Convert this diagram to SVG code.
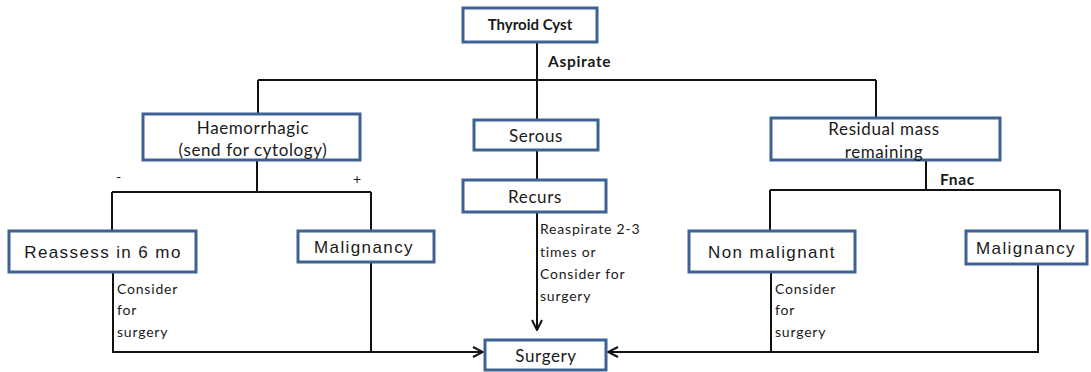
<svg xmlns="http://www.w3.org/2000/svg" width="1091" height="372" viewBox="0 0 1091 372">
  <style>
    .box { fill: #ffffff; stroke: #3d6293; stroke-width: 3; }
    .wire { fill: none; stroke: #111111; stroke-width: 2; }
    .t { font-family: Lato, "Open Sans", sans-serif; font-size: 17px; letter-spacing: 0.6px; fill: #1a1a1a; text-anchor: middle; }
    .tb { font-size: 15px; letter-spacing: 0; font-weight: bold; }
    .a { font-family: "Liberation Sans", Arial, sans-serif; font-size: 17px; letter-spacing: 1.4px; fill: #1a1a1a; text-anchor: middle; }
    .note { font-family: Lato, "Open Sans", sans-serif; font-size: 14px; fill: #1a1a1a; letter-spacing: 0.8px; }
    .lbl { font-family: Lato, "Open Sans", sans-serif; font-size: 15.5px; font-weight: bold; letter-spacing: 0.7px; fill: #1a1a1a; }
  </style>
  <defs>
    <marker id="chev" viewBox="0 0 12 12" refX="11" refY="6" markerWidth="12" markerHeight="12" markerUnits="userSpaceOnUse" orient="auto">
      <polyline points="1,1 11,6 1,11" fill="none" stroke="#111111" stroke-width="2"/>
    </marker>
  </defs>
  <rect width="1091" height="372" fill="#ffffff"/>

  <!-- connectors -->
  <g id="connectors">
    <path class="wire" d="M537 42 V120"/>
    <path class="wire" d="M258 80 H876"/>
    <path class="wire" d="M258 80 V114"/>
    <path class="wire" d="M876 80 V118"/>
    <path class="wire" d="M537 150 V180"/>
    <path class="wire" d="M537 212 V330" marker-end="url(#chev)"/>
    <path class="wire" d="M257 160 V192"/>
    <path class="wire" d="M112 192 H371"/>
    <path class="wire" d="M112 192 V231"/>
    <path class="wire" d="M371 192 V231"/>
    <path class="wire" d="M926 160 V190"/>
    <path class="wire" d="M770 190 H1060"/>
    <path class="wire" d="M770 190 V231"/>
    <path class="wire" d="M1060 190 V231"/>
    <path class="wire" d="M113 272 V352 H483" marker-end="url(#chev)"/>
    <path class="wire" d="M371 262 V352"/>
    <path class="wire" d="M1038 264 V352 H608" marker-end="url(#chev)"/>
    <path class="wire" d="M771 272 V352"/>
    <text class="lbl" x="548" y="67">Aspirate</text>
    <text class="lbl" x="940" y="185">Fnac</text>
    <text class="note" x="116" y="182">-</text>
    <text class="note" x="353" y="184">+</text>
    <text class="note" x="540" y="234">Reaspirate 2-3</text>
    <text class="note" x="540" y="257">times or</text>
    <text class="note" x="540" y="279">Consider for</text>
    <text class="note" x="540" y="301">surgery</text>
    <text class="note" x="117" y="294">Consider</text>
    <text class="note" x="117" y="315">for</text>
    <text class="note" x="117" y="337">surgery</text>
    <text class="note" x="775" y="294">Consider</text>
    <text class="note" x="775" y="315">for</text>
    <text class="note" x="775" y="337">surgery</text>
  </g>

  <g id="thyroid-cyst">
    <rect class="box" x="463" y="8" width="134" height="34"/>
    <text class="t tb" x="530" y="30">Thyroid Cyst</text>
  </g>
  <g id="haemorrhagic">
    <rect class="box" x="143" y="114" width="217" height="46"/>
    <text class="t" x="253" y="134">Haemorrhagic</text>
    <text class="t" x="253" y="156">(send for cytology)</text>
  </g>
  <g id="serous">
    <rect class="box" x="474" y="120" width="124" height="30"/>
    <text class="t" x="536" y="142">Serous</text>
  </g>
  <g id="recurs">
    <rect class="box" x="463" y="180" width="143" height="32"/>
    <text class="t" x="535" y="203">Recurs</text>
  </g>
  <g id="residual-mass">
    <rect class="box" x="771" y="118" width="229" height="42"/>
    <text class="t" x="884" y="135">Residual mass</text>
    <text class="t" x="884" y="158">remaining</text>
  </g>
  <g id="reassess">
    <rect class="box" x="9" y="231" width="187" height="41"/>
    <text class="a" x="103" y="258">Reassess in 6 mo</text>
  </g>
  <g id="malignancy-left">
    <rect class="box" x="298" y="231" width="136" height="31"/>
    <text class="a" x="364" y="253">Malignancy</text>
  </g>
  <g id="non-malignant">
    <rect class="box" x="689" y="231" width="166" height="41"/>
    <text class="a" x="772" y="258">Non malignant</text>
  </g>
  <g id="malignancy-right">
    <rect class="box" x="966" y="231" width="121" height="33"/>
    <text class="a" x="1026" y="254">Malignancy</text>
  </g>
  <g id="surgery">
    <rect class="box" x="485" y="340" width="121" height="30"/>
    <text class="t" x="546" y="362">Surgery</text>
  </g>
</svg>
